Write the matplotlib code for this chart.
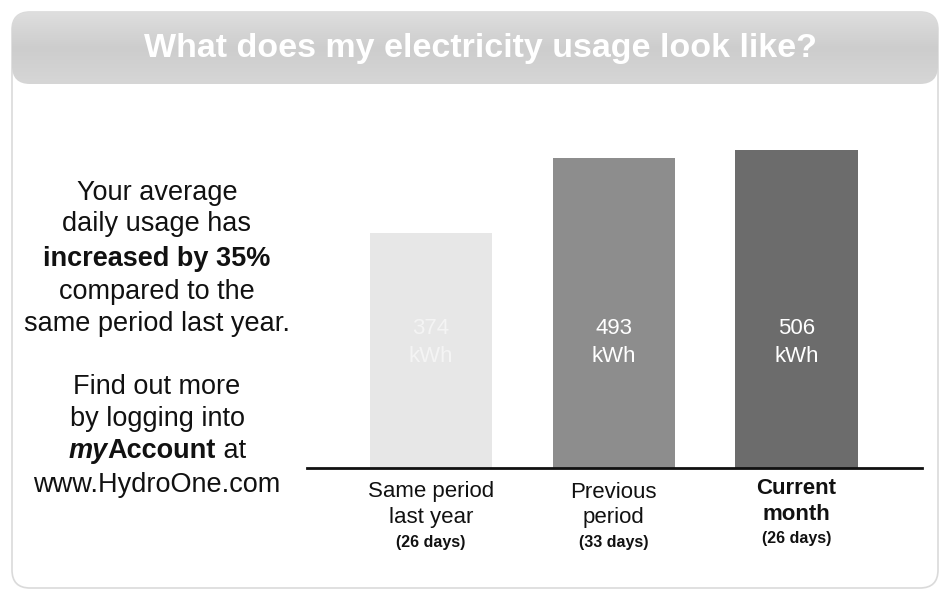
import numpy as np
import matplotlib
matplotlib.use("Agg")
import matplotlib.pyplot as plt
from matplotlib.colors import LinearSegmentedColormap
from matplotlib.patches import FancyBboxPatch
from matplotlib.transforms import blended_transform_factory

plt.rcParams['font.family'] = ['Liberation Sans', 'DejaVu Sans']

# data
cat_line1 = ["Same period", "Previous", "Current"]
cat_line2 = ["last year", "period", "month"]
days = ["(26 days)", "(33 days)", "(26 days)"]
usage_kwh = [374, 493, 506]
bar_colors = ["#e7e7e7", "#8d8d8d", "#6c6c6c"]
label_colors = ["#f4f4f4", "white", "white"]
cat_weights = ["normal", "normal", "bold"]
title = "What does my electricity usage look like?"

W, H = 947, 603
fig = plt.figure(figsize=(W / 100, H / 100), dpi=100)

# background frame drawn in pixel coordinates
bg = fig.add_axes([0, 0, 1, 1], zorder=0)
bg.set_xlim(0, W)
bg.set_ylim(H, 0)
bg.axis("off")

box = FancyBboxPatch((12, 12), 926, 576, boxstyle="round,pad=0,rounding_size=18",
                     fc="white", ec="#dadada", lw=1.2)
bg.add_patch(box)

header = FancyBboxPatch((12, 12), 926, 72, boxstyle="round,pad=0,rounding_size=18",
                        fc="none", ec="none")
bg.add_patch(header)
grad = np.linspace(0, 1, 100).reshape(-1, 1)
cmap = LinearSegmentedColormap.from_list("hdr", ["#dedede", "#cdcdcd", "#d6d6d6"])
im = bg.imshow(grad, extent=[12, 938, 84, 12], cmap=cmap, aspect="auto", zorder=1)
im.set_clip_path(header)

bg.text(480, 48, title, color="white", fontsize=24.5, fontweight="bold",
        ha="center", va="center", zorder=3)

# left-hand message, line by line with mixed weights
lines = [
    [("Your average", "normal", "normal")],
    [("daily usage has", "normal", "normal")],
    [("increased by 35%", "bold", "normal")],
    [("compared to the", "normal", "normal")],
    [("same period last year.", "normal", "normal")],
    [("Find out more", "normal", "normal")],
    [("by logging into", "normal", "normal")],
    [("my", "bold", "italic"), ("Account", "bold", "normal"), (" at", "normal", "normal")],
    [("www.HydroOne.com", "normal", "normal")],
]
line_y = [193, 224, 259, 292, 324, 387, 419, 451, 485]

renderer = fig.canvas.get_renderer()
for segs, y in zip(lines, line_y):
    texts = []
    widths = []
    for s, w, st in segs:
        t = bg.text(0, y, s, fontsize=19.5, fontweight=w, fontstyle=st,
                    ha="left", va="center", color="#111111", zorder=3)
        texts.append(t)
        widths.append(t.get_window_extent(renderer).width)
    x = 157 - sum(widths) / 2
    for t, wd in zip(texts, widths):
        t.set_x(x)
        x += wd

# bar chart
ax_bottom, ax_h = 468, 358
ax = fig.add_axes([307 / W, (H - ax_bottom) / H, 615 / W, ax_h / H], zorder=2)
ax.patch.set_alpha(0)
x = np.arange(len(usage_kwh))
bars = ax.bar(x, usage_kwh, width=0.67, color=bar_colors, zorder=2)
ax.set_xlim(-0.678, 2.686)
ax.set_ylim(0, 570)
for s in ["top", "right", "left"]:
    ax.spines[s].set_visible(False)
ax.spines["bottom"].set_linewidth(2)
ax.spines["bottom"].set_color("#111111")
ax.set_xticks([])
ax.set_yticks([])

for xi, v, c in zip(x, usage_kwh, label_colors):
    ax.text(xi, 200, f"{v}\nkWh", ha="center", va="center", color=c,
            fontsize=16, linespacing=1.45, zorder=3)


def frac(py):
    return (ax_bottom - py) / ax_h


tr = blended_transform_factory(ax.transData, ax.transAxes)
for xi, l1, l2, d, w in zip(x, cat_line1, cat_line2, days, cat_weights):
    off = -4 if w == "bold" else 0
    ax.text(xi, frac(492 + off), l1, transform=tr, ha="center", va="center",
            fontsize=16, fontweight=w, color="#111111")
    ax.text(xi, frac(518 + off), l2, transform=tr, ha="center", va="center",
            fontsize=16, fontweight=w, color="#111111")
    ax.text(xi, frac(543 + off), d, transform=tr, ha="center", va="center",
            fontsize=11.5, fontweight="bold", color="#111111")

fig.savefig("out.png", dpi=100, facecolor="white")
